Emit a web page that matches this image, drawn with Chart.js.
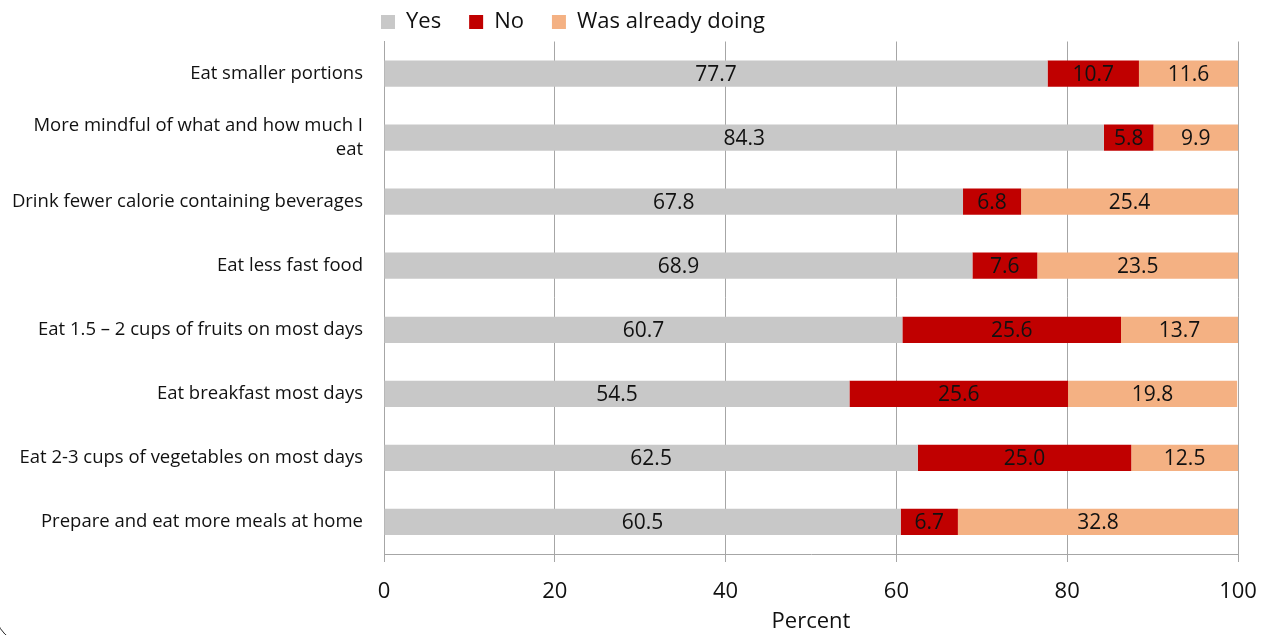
<!DOCTYPE html>
<html>
<head>
<meta charset="utf-8">
<script src="https://cdn.jsdelivr.net/npm/chart.js@4/dist/chart.umd.min.js"></script>
<style>
  body { margin: 0; background: #fff; }
  #wrap { position: relative; width: 1268px; height: 635px; overflow: hidden; }
  #frame { position: absolute; left: -6px; top: -30px; width: 1400px; height: 673px;
           border: 1px solid #222; border-radius: 36px; }
  canvas { position: absolute; left: 0; top: 0; }
</style>
</head>
<body>
<div id="wrap">
  <div id="frame"></div>
  <canvas id="chart" width="1268" height="635"></canvas>
</div>
<script>
const categories = [
    'Eat smaller portions',
    ['More mindful of what and how much I', 'eat'],
    'Drink fewer calorie containing beverages',
    'Eat less fast food',
    'Eat 1.5 \u2013 2 cups of fruits on most days',
    'Eat breakfast most days',
    'Eat 2-3 cups of vegetables on most days',
    'Prepare and eat more meals at home'
];
const yesValues = [77.7, 84.3, 67.8, 68.9, 60.7, 54.5, 62.5, 60.5];
const noValues = [10.7, 5.8, 6.8, 7.6, 25.6, 25.6, 25.0, 6.7];
const alreadyValues = [11.6, 9.9, 25.4, 23.5, 13.7, 19.8, 12.5, 32.8];
const xTicks = [0, 20, 40, 60, 80, 100];

const FONT = '"Open Sans", sans-serif';
const GRID = '#a6a6a6';

// draws the number in the middle of each bar piece
const barLabels = {
    id: 'barLabels',
    afterDatasetsDraw(chart) {
        const ctx = chart.ctx;
        ctx.save();
        ctx.font = '21px ' + FONT;
        ctx.fillStyle = '#111';
        ctx.textAlign = 'center';
        ctx.textBaseline = 'middle';
        chart.data.datasets.forEach((ds, i) => {
            chart.getDatasetMeta(i).data.forEach((bar, j) => {
                const cx = (bar.x + bar.base) / 2;
                ctx.fillText(ds.data[j].toFixed(1), cx, bar.y + 1);
            });
        });
        ctx.restore();
    }
};

// legend sits left of centre in the original, with wider gaps between items
const legendShift = {
    id: 'legendShift',
    beforeDraw(chart) {
        const lg = chart.legend;
        lg.options.labels.padding = 28;
        lg.left = 381 - 28;
        lg.right = 1268;
        lg.top = 11 - 28;
    },
    afterDraw(chart) {
        chart.legend.options.labels.padding = 9.5;
    }
};

new Chart(document.getElementById('chart').getContext('2d'), {
    type: 'bar',
    data: {
        labels: categories,
        datasets: [
            { label: 'Yes', data: yesValues, backgroundColor: '#c8c8c8' },
            { label: 'No', data: noValues, backgroundColor: '#c00000' },
            { label: 'Was already doing', data: alreadyValues, backgroundColor: '#f4b183' }
        ]
    },
    options: {
        indexAxis: 'y',
        responsive: false,
        animation: false,
        events: [],
        datasets: {
            bar: { barPercentage: 0.41, categoryPercentage: 1.0, borderWidth: 0 }
        },
        layout: { padding: { top: 0, right: 30, bottom: 0, left: 0 } },
        plugins: {
            legend: {
                position: 'top',
                align: 'start',
                labels: {
                    font: { family: FONT, size: 22 },
                    color: '#111',
                    boxWidth: 14,
                    boxHeight: 14,
                    padding: 9.5
                }
            },
            tooltip: { enabled: false }
        },
        scales: {
            x: {
                stacked: true,
                min: 0,
                max: 100,
                afterBuildTicks: s => { s.ticks = xTicks.map(v => ({ value: v })); },
                afterFit: s => { s.height = 81; s.paddingLeft = 0; s.paddingRight = 0; },
                ticks: { font: { family: FONT, size: 22 }, color: '#111', padding: 17, maxRotation: 0 },
                grid: { color: GRID, tickLength: 8, drawOnChartArea: true },
                border: { color: GRID },
                title: { display: true, text: 'Percent', font: { family: FONT, size: 22 }, color: '#111', padding: { top: 0, bottom: 0 } }
            },
            y: {
                stacked: true,
                afterFit: s => { s.width = 384; },
                ticks: { font: { family: FONT, size: 18.5, lineHeight: 1.32 }, color: '#111', padding: 13 },
                grid: { display: false },
                border: { color: GRID }
            }
        }
    },
    plugins: [barLabels, legendShift]
});
</script>
</body>
</html>
